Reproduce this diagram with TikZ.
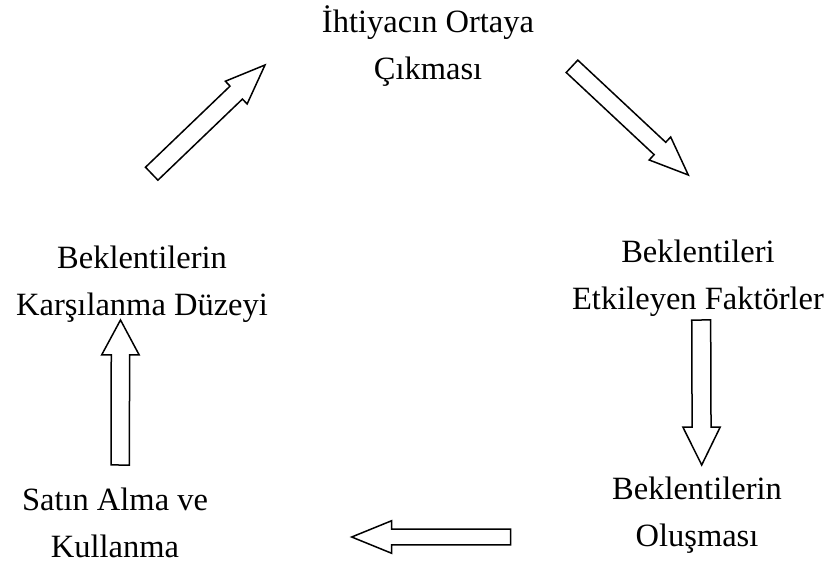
\documentclass[tikz,border=0pt]{standalone}
\usepackage{fontspec}
\setmainfont{Liberation Serif}
\usetikzlibrary{calc}
\tikzset{
  lbl/.style={align=center, inner sep=0pt, font={\fontsize{32.5bp}{46.5bp}\selectfont}},
  blockarrow/.style={draw=black, line width=1.5bp, line join=miter, fill=white}
}
% tail, tip, shaft half-width, head half-width, head length
\newcommand\blockarrow[5]{%
  \draw[blockarrow] let \p1=($(#2)-(#1)$), \n1={atan2(\y1,\x1)}, \n2={veclen(\x1,\y1)}, \n3={\n2-#5} in
   [shift={(#1)}, rotate=\n1]
   (0pt,#3pt) -- (\n3,#3pt) -- (\n3,#4pt) -- (\n2,0pt) -- (\n3,-#4pt) -- (\n3,-#3pt) -- (0pt,-#3pt) -- cycle;
}
\begin{document}
\begin{tikzpicture}[x=1bp,y=-1bp]
\useasboundingbox (0,0) rectangle (826,574);
\node[lbl] (need) at (428,46) {İhtiyacın Ortaya\\Çıkması};
\node[lbl] (factors) at (698,278) {Beklentileri\\Etkileyen Faktörler};
\node[lbl] (form) at (697,515) {Beklentilerin\\Oluşması};
\node[lbl] (buy) at (115,523) {Satın Alma ve\\Kullanma};
\node[lbl] (meet) at (142,284) {Beklentilerin\\Karşılanma Düzeyi};
\coordinate (a1t) at (151.7,173.7);
\coordinate (a1h) at (265,65);
\coordinate (a2t) at (572,66.3);
\coordinate (a2h) at (688.3,175);
\coordinate (a3t) at (701.2,320);
\coordinate (a3h) at (701.7,465);
\coordinate (a4t) at (510.7,537);
\coordinate (a4h) at (351.7,537);
\coordinate (a5t) at (120.2,465);
\coordinate (a5h) at (120.5,320);
\blockarrow{a1t}{a1h}{9}{15.8}{40}
\blockarrow{a2t}{a2h}{8.5}{15.8}{39}
\blockarrow{a3t}{a3h}{9.5}{18.7}{38}
\blockarrow{a4t}{a4h}{8}{16.3}{40}
\blockarrow{a5t}{a5h}{9.2}{18.8}{35}
\end{tikzpicture}
\end{document}
